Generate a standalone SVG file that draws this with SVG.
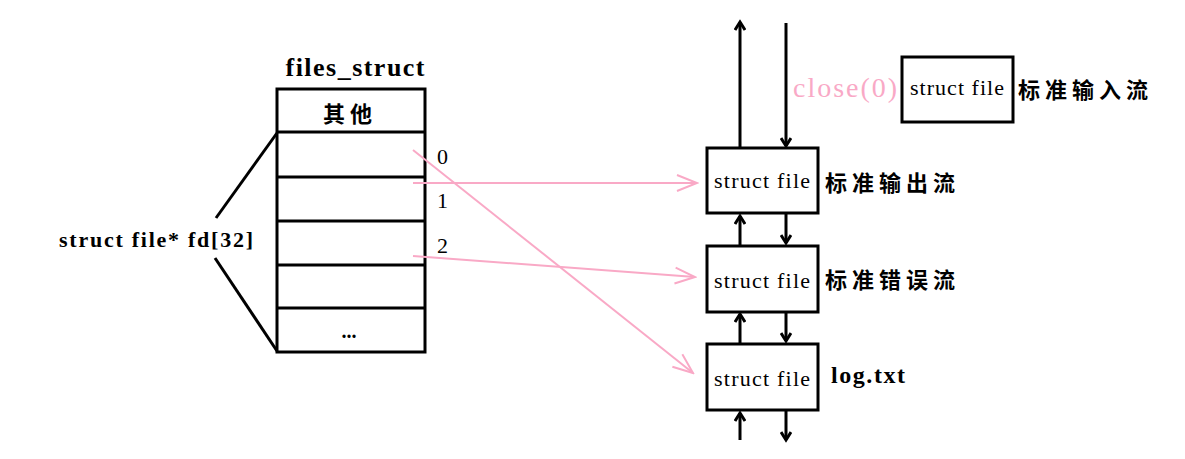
<svg xmlns="http://www.w3.org/2000/svg" width="1185" height="459" viewBox="0 0 1185 459">
<style>
.t{font-family:"Liberation Serif","Noto Sans CJK SC",serif;fill:#000}
.b{font-weight:bold}
.cjk{font-family:"Noto Sans CJK SC",serif;font-size:22px;letter-spacing:5px;font-weight:bold;fill:#000}
.box{fill:#fff;stroke:#000;stroke-width:3}
.blk{stroke:#000;stroke-width:3;fill:none}
.pk{stroke:#f9a9c6;stroke-width:2;fill:none}
</style>
<defs>
<marker id="ab" markerWidth="12" markerHeight="12" refX="9" refY="6" orient="auto" markerUnits="userSpaceOnUse">
<path d="M1,1 L9,6 L1,11" fill="none" stroke="#000" stroke-width="3"/>
</marker>
<marker id="ap" markerWidth="24" markerHeight="20" refX="22" refY="10" orient="auto" markerUnits="userSpaceOnUse">
<path d="M2,2 L22,10 L2,18" fill="none" stroke="#f9a9c6" stroke-width="2"/>
</marker>
</defs>
<g id="files_struct">
<text class="t b" x="355" y="76" font-size="26" text-anchor="middle" textLength="139">files_struct</text>
<rect class="box" x="277" y="89" width="148" height="263"/>
<line class="blk" x1="277" y1="132" x2="425" y2="132"/>
<line class="blk" x1="277" y1="177" x2="425" y2="177"/>
<line class="blk" x1="277" y1="221" x2="425" y2="221"/>
<line class="blk" x1="277" y1="265" x2="425" y2="265"/>
<line class="blk" x1="277" y1="308" x2="425" y2="308"/>
<text class="cjk" x="350" y="122" text-anchor="middle" letter-spacing="4">其他</text>
<text class="t b" x="349" y="338" font-size="20" text-anchor="middle">...</text>
<text class="t" x="437" y="164" font-size="22">0</text>
<text class="t" x="437" y="208" font-size="22">1</text>
<text class="t" x="437" y="253" font-size="22">2</text>
</g>
<g id="fd_label">
<text class="t b" x="59" y="247" font-size="22" textLength="194">struct file* fd[32]</text>
<line class="blk" x1="277" y1="133" x2="216" y2="218"/>
<line class="blk" x1="215" y1="258" x2="277" y2="351"/>
</g>
<g id="stdin">
<rect class="box" x="902" y="57" width="111" height="65"/>
<text class="t" x="957" y="95" font-size="22" text-anchor="middle" textLength="94">struct file</text>
<text class="cjk" x="1018" y="98">标准输入流</text>
<text class="t" x="793" y="97" font-size="28" style="fill:#f9a9c6" textLength="104">close(0)</text>
</g>
<g id="stdout">
<rect class="box" x="707" y="148" width="111" height="65"/>
<text class="t" x="762" y="188" font-size="22" text-anchor="middle" textLength="96">struct file</text>
<text class="cjk" x="825" y="191">标准输出流</text>
</g>
<g id="stderr">
<rect class="box" x="707" y="246" width="111" height="66"/>
<text class="t" x="762" y="288" font-size="22" text-anchor="middle" textLength="96">struct file</text>
<text class="cjk" x="825" y="288">标准错误流</text>
</g>
<g id="logtxt">
<rect class="box" x="707" y="344" width="111" height="66"/>
<text class="t" x="762" y="386" font-size="22" text-anchor="middle" textLength="96">struct file</text>
<text class="t b" x="831" y="383" font-size="24" textLength="74">log.txt</text>
</g>
<g id="connectors">
<line class="blk" x1="740" y1="148" x2="740" y2="22" marker-end="url(#ab)"/>
<line class="blk" x1="786" y1="23" x2="786" y2="146" marker-end="url(#ab)"/>
<line class="blk" x1="740" y1="246" x2="740" y2="216" marker-end="url(#ab)"/>
<line class="blk" x1="786" y1="213" x2="786" y2="243" marker-end="url(#ab)"/>
<line class="blk" x1="740" y1="344" x2="740" y2="314" marker-end="url(#ab)"/>
<line class="blk" x1="786" y1="312" x2="786" y2="341" marker-end="url(#ab)"/>
<line class="blk" x1="740" y1="440" x2="740" y2="413" marker-end="url(#ab)"/>
<line class="blk" x1="786" y1="410" x2="786" y2="440" marker-end="url(#ab)"/>
<line class="pk" x1="413" y1="150" x2="693" y2="373" marker-end="url(#ap)"/>
<line class="pk" x1="413" y1="183" x2="697" y2="183" marker-end="url(#ap)"/>
<line class="pk" x1="413" y1="256" x2="695" y2="277" marker-end="url(#ap)"/>
</g>
</svg>
